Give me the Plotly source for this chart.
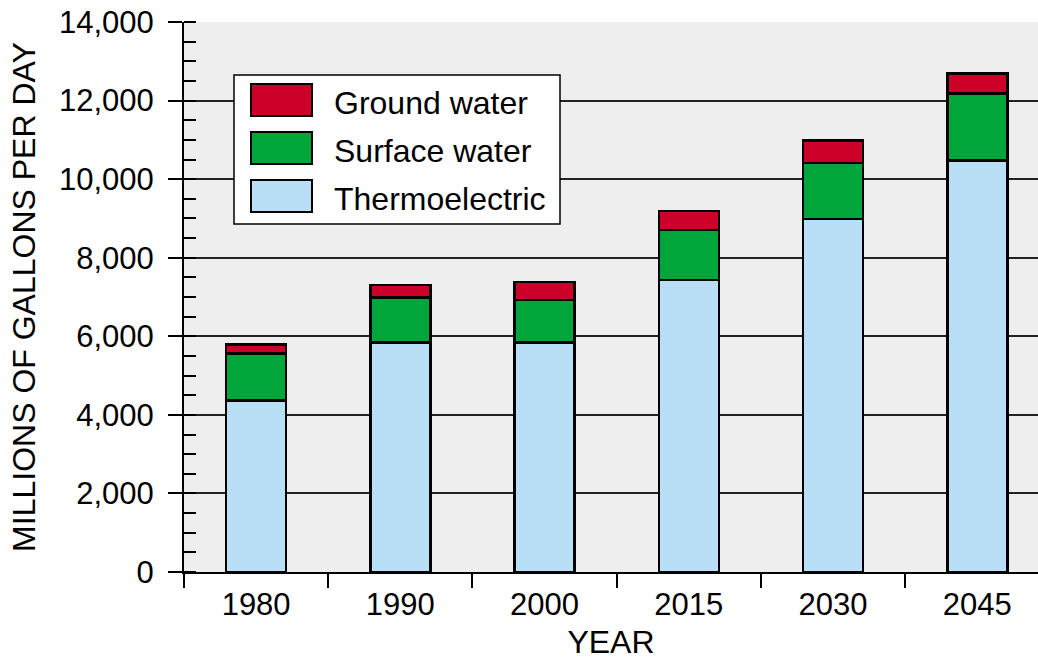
import plotly.graph_objects as go

# Water withdrawals by source, millions of gallons per day
years = ["1980", "1990", "2000", "2015", "2030", "2045"]
thermoelectric = [4360, 5840, 5840, 7430, 8990, 10480]
surface_water = [1200, 1150, 1080, 1270, 1420, 1700]
ground_water = [230, 310, 460, 490, 580, 510]

series_names = ["Thermoelectric", "Surface water", "Ground water"]
series_values = [thermoelectric, surface_water, ground_water]
series_colors = ["#B8DFF5", "#00A63A", "#CC0029"]

y_ticks = [0, 2000, 4000, 6000, 8000, 10000, 12000, 14000]

FONT = "Arial, Liberation Sans, sans-serif"
W, H = 1038, 660
ML, MR, MT, MB = 184, 0, 22, 88

fig = go.Figure()
for name, vals, col in zip(series_names, series_values, series_colors):
    fig.add_trace(go.Bar(
        x=years, y=vals, name=name,
        marker=dict(color=col, line=dict(color="black", width=2.5)),
        showlegend=False,
    ))

# helpers to place the legend box in pixel terms
pw, ph = W - ML - MR, H - MT - MB
def px_x(p):
    return (p - ML) / pw
def px_y(p):
    return (H - MB - p) / ph

shapes = [dict(type="rect", xref="paper", yref="paper",
               x0=px_x(234), x1=px_x(560), y0=px_y(224), y1=px_y(75),
               fillcolor="white", line=dict(color="black", width=1.5), layer="above")]
annotations = []
legend_rows = [("Ground water", series_colors[2], 100),
               ("Surface water", series_colors[1], 148),
               ("Thermoelectric", series_colors[0], 196)]
for label, col, cy in legend_rows:
    shapes.append(dict(type="rect", xref="paper", yref="paper",
                       x0=px_x(251), x1=px_x(312), y0=px_y(cy + 16), y1=px_y(cy - 16),
                       fillcolor=col, line=dict(color="black", width=2), layer="above"))
    annotations.append(dict(text=label, xref="paper", yref="paper",
                            x=px_x(332), y=px_y(cy + 3), xanchor="left", yanchor="middle",
                            showarrow=False, font=dict(size=32, color="black", family=FONT)))

fig.update_layout(
    width=W, height=H,
    margin=dict(l=ML, r=MR, t=MT, b=MB),
    paper_bgcolor="white", plot_bgcolor="#EEEEEE",
    barmode="stack", bargap=0.584,
    font=dict(family=FONT, size=31, color="black"),
    shapes=shapes, annotations=annotations,
    xaxis=dict(
        type="category", range=[-0.5, 5.421],
        tickson="boundaries", ticks="outside", ticklen=14, tickwidth=2, tickcolor="black",
        showline=True, linecolor="black", linewidth=2,
        showgrid=False, tickfont=dict(size=31), ticklabelstandoff=4,
        title=dict(text="YEAR", font=dict(size=32), standoff=14),
    ),
    yaxis=dict(
        range=[0, 14000], tickvals=y_ticks, tickformat=",d",
        ticks="outside", ticklen=14, tickwidth=2, tickcolor="black",
        showline=True, linecolor="black", linewidth=2,
        showgrid=True, gridcolor="#222222", gridwidth=1.8, zeroline=False,
        tickfont=dict(size=31), ticklabelstandoff=8,
        minor=dict(dtick=500, ticks="inside", ticklen=12, tickwidth=2, tickcolor="black", showgrid=False),
        title=dict(text="MILLIONS OF GALLONS PER DAY", font=dict(size=32), standoff=14),
    ),
)

fig.write_html("out.html")
